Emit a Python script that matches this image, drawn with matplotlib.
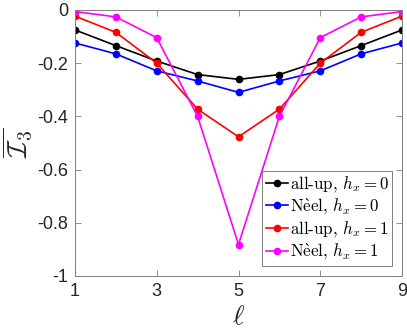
import matplotlib
matplotlib.use("Agg")
import matplotlib.pyplot as plt

# ---- data ----
ell = [1, 2, 3, 4, 5, 6, 7, 8, 9]
allup_h0 = [-0.075, -0.134, -0.192, -0.243, -0.261, -0.243, -0.192, -0.134, -0.075]
neel_h0 = [-0.124, -0.165, -0.229, -0.267, -0.310, -0.267, -0.229, -0.165, -0.124]
allup_h1 = [-0.023, -0.084, -0.200, -0.373, -0.477, -0.373, -0.200, -0.084, -0.023]
neel_h1 = [-0.006, -0.026, -0.104, -0.400, -0.882, -0.400, -0.104, -0.026, -0.006]

series = [allup_h0, neel_h0, allup_h1, neel_h1]
neel = r"N$\mathrm{\grave{e}}$el"
labels = [r"all-up, $h_x=0$", neel + r", $h_x=0$",
          r"all-up, $h_x=1$", neel + r", $h_x=1$"]
colors = ["black", "blue", "red", "magenta"]

xticks = [1, 3, 5, 7, 9]
yticks = [0, -0.2, -0.4, -0.6, -0.8, -1]
ytick_labels = ["0", "-0.2", "-0.4", "-0.6", "-0.8", "-1"]

# ---- style ----
plt.rcParams["mathtext.fontset"] = "cm"
plt.rcParams["font.family"] = ["Liberation Sans", "DejaVu Sans"]
axis_col = "#7f7f7f"
text_col = "#262626"

fig = plt.figure(figsize=(4.07, 3.32), dpi=100)
ax = fig.add_axes([0.184, 0.169, 0.804, 0.801])

for y, lab, c in zip(series, labels, colors):
    ax.plot(ell, y, "-o", color=c, lw=1.2, ms=4.5, label=lab)

ax.set_xlim(1, 9)
ax.set_ylim(-1, 0)
ax.set_xticks(xticks)
ax.set_xticklabels([str(t) for t in xticks])
ax.set_yticks(yticks)
ax.set_yticklabels(ytick_labels)

ax.tick_params(direction="in", length=4, width=0.6, colors=axis_col,
               labelcolor=text_col, labelsize=13, top=True, right=True, pad=5)
for s in ax.spines.values():
    s.set_color(axis_col)
    s.set_linewidth(0.7)

ax.set_xlabel(r"$\ell$", fontsize=20, color=text_col, labelpad=3)
ax.set_ylabel(r"$\overline{\mathcal{I}_3}$", fontsize=20, color=text_col, labelpad=2)

leg = ax.legend(loc="lower right", handlelength=1.3,
                handletextpad=0.1, borderpad=0.2, labelspacing=0.15,
                borderaxespad=0.6, fancybox=False, framealpha=1,
                prop={"family": "cmr10", "size": 12.2})
leg.get_frame().set_edgecolor(axis_col)
leg.get_frame().set_linewidth(0.7)

fig.savefig("out.png", dpi=100)
